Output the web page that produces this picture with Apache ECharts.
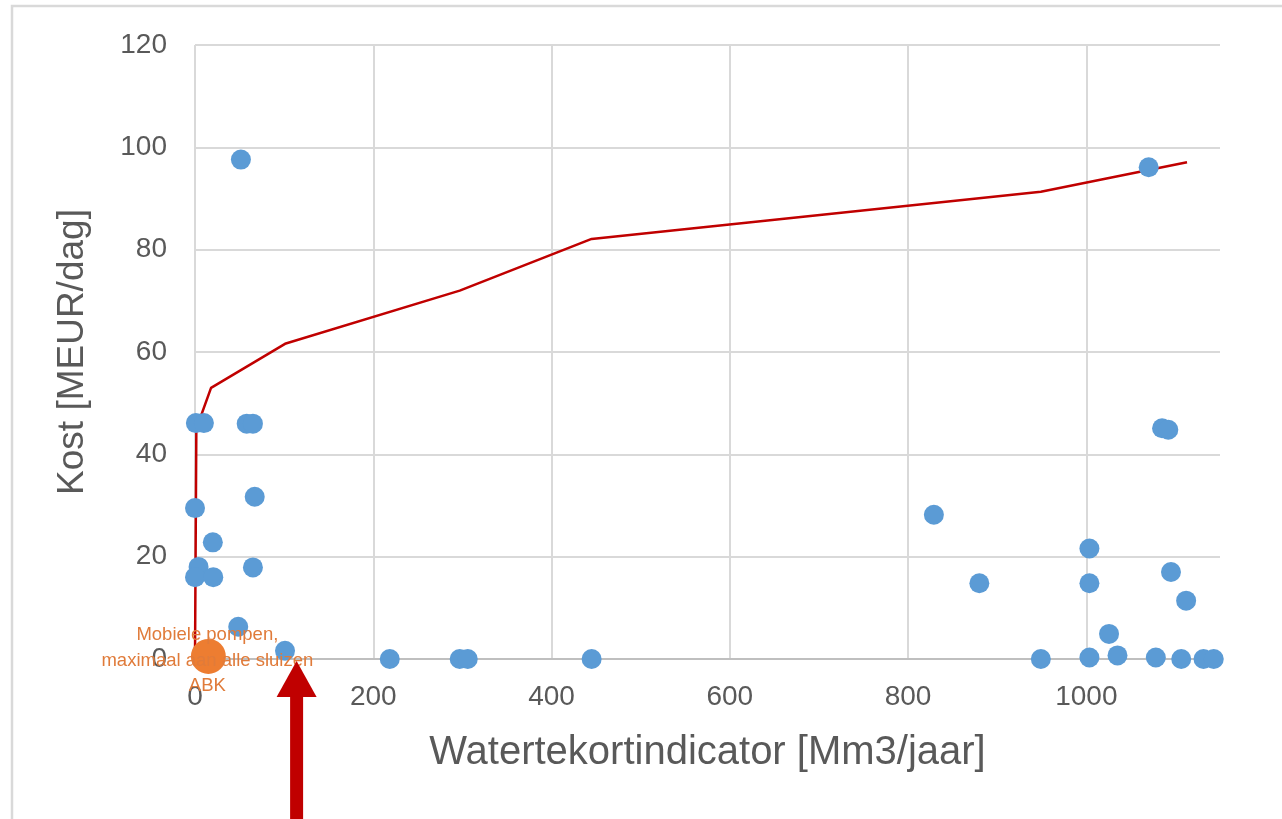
<!DOCTYPE html>
<html>
<head>
<meta charset="utf-8">
<script src="https://cdn.jsdelivr.net/npm/echarts@6/dist/echarts.min.js"></script>
<style>
  html, body { margin: 0; padding: 0; background: #fff; }
  #chart { width: 1282px; height: 819px; }
</style>
</head>
<body>
<div id="chart"></div>
<script>
// scenario's: [watertekort, kost]
const scenarios = [
  [51.5, 97.6], [1070, 96.1], [1, 46.1], [10, 46.1], [58, 46], [65, 46],
  [67, 31.7], [0, 29.5], [20, 22.8], [4, 18], [0, 16], [20.5, 16],
  [65, 17.9], [48.5, 6.3], [101, 1.6], [218.5, 0], [297, 0], [306, 0],
  [445, 0], [829, 28.2], [880, 14.8], [1003.5, 21.6], [1003.5, 14.8],
  [1025.5, 4.9], [949, 0], [1003.5, 0.3], [1035, 0.7], [1078, 0.3],
  [1106.5, 0], [1131.5, 0], [1143, 0], [1085, 45.1], [1092, 44.8],
  [1095, 17], [1112, 11.4]
];
// pareto-front (rode lijn)
const front = [
  [0, 0], [1.5, 45], [18, 53], [101, 61.6], [297, 72], [445, 82.1],
  [949, 91.3], [1113, 97.1]
];
// gekozen maatregel
const selected = [[15, 0.5]];
const selectedLabel = "Mobiele pompen,\nmaximaal aan alle sluizen\nABK";
const arrowX = 114;

const font = "Liberation Sans";
const textColor = "#595959";

const chart = echarts.init(document.getElementById("chart"), null, { renderer: "canvas" });

chart.setOption({
  animation: false,
  backgroundColor: "#fff",
  grid: { left: 195, top: 45, right: 62, bottom: 160, containLabel: false },
  xAxis: {
    type: "value",
    min: 0,
    max: 1150,
    interval: 200,
    name: "Watertekortindicator [Mm3/jaar]",
    nameLocation: "middle",
    nameGap: 74,
    nameTextStyle: { fontFamily: font, fontSize: 40, color: textColor },
    axisLine: { show: true, lineStyle: { color: "#BFBFBF", width: 2 } },
    axisTick: { show: false },
    axisLabel: {
      fontFamily: font, fontSize: 28, color: textColor, margin: 24, showMaxLabel: false,
      formatter: (v) => String(v)
    },
    splitLine: { show: true, showMaxLine: false, lineStyle: { color: "#D9D9D9", width: 2 } }
  },
  yAxis: {
    type: "value",
    min: 0,
    max: 120,
    interval: 20,
    name: "Kost [MEUR/dag]",
    nameLocation: "middle",
    nameGap: 104,
    nameTextStyle: { fontFamily: font, fontSize: 37, color: textColor },
    axisLine: { show: false },
    axisTick: { show: false },
    axisLabel: { fontFamily: font, fontSize: 28, color: textColor, margin: 28 },
    splitLine: { show: true, lineStyle: { color: "#D9D9D9", width: 2 } }
  },
  series: [
    {
      name: "front",
      type: "line",
      data: front,
      showSymbol: false,
      symbol: "none",
      lineStyle: { color: "#C00000", width: 2.5 },
      z: 2
    },
    {
      name: "scenario",
      type: "scatter",
      data: scenarios,
      symbolSize: 20,
      itemStyle: { color: "#5B9BD5", opacity: 1 },
      z: 3
    },
    {
      name: "gekozen",
      type: "scatter",
      data: selected,
      symbolSize: 35,
      itemStyle: { color: "#ED7D31", opacity: 1 },
      label: {
        show: true,
        position: "inside",
        offset: [-1, 4],
        formatter: selectedLabel,
        fontFamily: font,
        fontSize: 18.5,
        lineHeight: 25.5,
        color: "#E07B3A",
        align: "center"
      },
      z: 4
    }
  ]
});

// rode pijl + kader
const tip = chart.convertToPixel({ gridIndex: 0 }, [arrowX, 0]);
const tx = tip[0], ty = tip[1] + 2;
chart.setOption({
  graphic: [
    {
      type: "rect",
      shape: { x: 12, y: 6, width: 1400, height: 900 },
      style: { fill: "none", stroke: "#D9D9D9", lineWidth: 2.5 },
      silent: true,
      z: 0
    },
    {
      type: "polygon",
      shape: { points: [[tx, ty], [tx - 20, ty + 36], [tx + 20, ty + 36]] },
      style: { fill: "#C00000" },
      z: 10
    },
    {
      type: "rect",
      shape: { x: tx - 6.5, y: ty + 35, width: 13, height: 140 },
      style: { fill: "#C00000" },
      z: 10
    }
  ]
});

window.addEventListener("resize", () => chart.resize());
</script>
</body>
</html>
